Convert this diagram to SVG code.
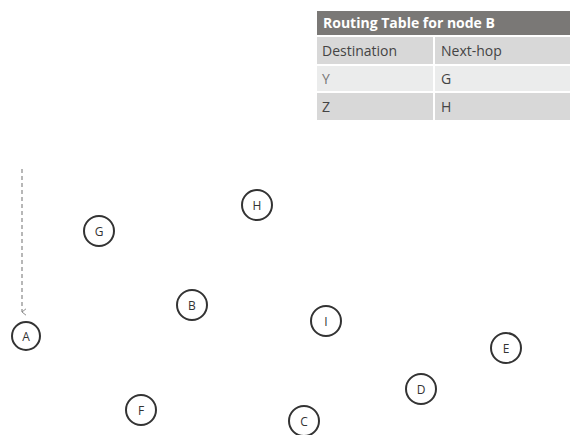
<svg xmlns="http://www.w3.org/2000/svg" width="570" height="435" viewBox="0 0 570 435">
<defs>
<style>
.node circle{fill:#fff;stroke:#333;stroke-width:2}
.node text{font-family:"Open Sans","Liberation Sans",sans-serif;font-size:12px;fill:#333;text-anchor:middle;dominant-baseline:central}
.cell{font-family:"Open Sans","Liberation Sans",sans-serif;font-size:14px;fill:#444}
.light{fill:#777}
.hdr{font-family:"Open Sans","Liberation Sans",sans-serif;font-size:14px;font-weight:bold;fill:#fff}
</style>
<marker id="arr" viewBox="0 0 10 10" refX="5" refY="8" markerWidth="8" markerHeight="8" orient="auto" markerUnits="userSpaceOnUse">
<path d="M1,3 L5,8 L9,3" fill="none" stroke="#888" stroke-width="1.2"/>
</marker>
</defs>
<rect width="570" height="435" fill="#fff"/>
<g id="table">
<rect x="317" y="11" width="253" height="24" fill="#7a7876"/>
<rect x="317" y="37" width="116" height="27" fill="#d8d8d8"/>
<rect x="435" y="37" width="135" height="27" fill="#d8d8d8"/>
<rect x="317" y="66" width="116" height="25" fill="#ebecec"/>
<rect x="435" y="66" width="135" height="25" fill="#ebecec"/>
<rect x="317" y="93" width="116" height="27" fill="#d8d8d8"/>
<rect x="435" y="93" width="135" height="27" fill="#d8d8d8"/>
<text class="hdr" x="323" y="28">Routing Table for node B</text>
<text class="cell" x="322" y="56">Destination</text>
<text class="cell" x="441" y="56">Next-hop</text>
<text class="cell light" x="322" y="84">Y</text>
<text class="cell" x="441" y="84">G</text>
<text class="cell" x="322" y="112">Z</text>
<text class="cell" x="441" y="112">H</text>
</g>
<g id="connectors">
<line x1="22" y1="169" x2="22" y2="312" stroke="#888" stroke-width="1.2" stroke-dasharray="4,3" marker-end="url(#arr)"/>
</g>
<g id="node-A" class="node"><circle cx="26" cy="336" r="14"/><text x="26" y="336">A</text></g>
<g id="node-G" class="node"><circle cx="99" cy="231" r="15"/><text x="99" y="231">G</text></g>
<g id="node-H" class="node"><circle cx="257" cy="205" r="15"/><text x="257" y="205">H</text></g>
<g id="node-B" class="node"><circle cx="192" cy="305" r="15"/><text x="192" y="305">B</text></g>
<g id="node-I" class="node"><circle cx="326" cy="321" r="15"/><text x="326" y="321">I</text></g>
<g id="node-F" class="node"><circle cx="141" cy="410" r="15"/><text x="141" y="410">F</text></g>
<g id="node-C" class="node"><circle cx="304" cy="421" r="15"/><text x="304" y="421">C</text></g>
<g id="node-E" class="node"><circle cx="506" cy="348" r="15"/><text x="506" y="348">E</text></g>
<g id="node-D" class="node"><circle cx="421" cy="389" r="15"/><text x="421" y="389">D</text></g>
</svg>
